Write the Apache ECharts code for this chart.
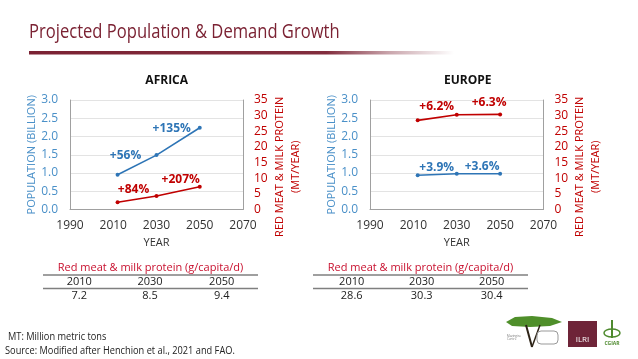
<!DOCTYPE html>
<html>
<head>
<meta charset="utf-8">
<script src="https://cdn.jsdelivr.net/npm/echarts@6/dist/echarts.min.js"></script>
<style>
html,body{margin:0;padding:0;background:#fff;}
#c{width:638px;height:359px;}
</style>
</head>
<body>
<div id="c"></div>
<script>
// ---- data ----
const years = [2012, 2030, 2050];
const africaPopulation = [0.95, 1.49, 2.24];
const africaProtein = [2.3, 4.3, 7.3];
const europePopulation = [0.94, 0.98, 0.98];
const europeProtein = [28.5, 30.3, 30.4];
const africaPopNotes = ['', '+56%', '+135%'];
const africaProteinNotes = ['', '+84%', '+207%'];
const europePopNotes = ['', '+3.9%', '+3.6%'];
const europeProteinNotes = ['', '+6.2%', '+6.3%'];
const tableYears = ['2010', '2030', '2050'];
const africaPerCapita = ['7.2', '8.5', '9.4'];
const europePerCapita = ['28.6', '30.3', '30.4'];
const regionTitles = ['AFRICA', 'EUROPE'];

const BLUE = '#2E75B6', BLUE_AX = '#4A90C8', RED = '#C00000', MAROON = '#7B2233';
const FONT = "'Open Sans', 'Noto Sans', sans-serif";

function items(vals, notes, offsets, color) {
  return years.map((x, i) => ({
    value: [x, vals[i]],
    label: {
      show: !!notes[i], formatter: notes[i], position: 'inside',
      offset: offsets[i], color: color, fontWeight: 'bold', fontSize: 12, fontFamily: FONT
    }
  }));
}

function axesFor(g) {
  return [
    { gridIndex: g, type: 'value', min: 0, max: 3, interval: 0.5, position: 'left',
      name: 'POPULATION (BILLION)', nameLocation: 'middle', nameRotate: 90, nameGap: 25,
      nameTextStyle: { color: BLUE_AX, fontSize: 11, fontFamily: FONT },
      axisLine: { show: true, lineStyle: { color: '#A0A0A0', width: 1 } },
      axisTick: { show: false },
      axisLabel: { color: BLUE_AX, fontSize: 12, fontFamily: FONT, margin: 12, formatter: v => v.toFixed(1) },
      splitLine: { show: true, lineStyle: { color: '#E3E3E3' } } },
    { gridIndex: g, type: 'value', min: 0, max: 35, interval: 5, position: 'right',
      name: 'RED MEAT & MILK PROTEIN\n(MT/YEAR)', nameLocation: 'middle', nameRotate: 90, nameGap: 26,
      nameTextStyle: { color: RED, fontSize: 11, fontFamily: FONT, lineHeight: 16, padding: [0, 24, 0, 0] },
      axisLine: { show: true, lineStyle: { color: '#A0A0A0', width: 1 } },
      axisTick: { show: false },
      axisLabel: { color: RED, fontSize: 12, fontFamily: FONT, margin: 11 },
      splitLine: { show: false } }
  ];
}

function xAxisFor(g) {
  return { gridIndex: g, type: 'value', min: 1990, max: 2070, interval: 20,
    name: 'YEAR', nameLocation: 'middle', nameGap: 28,
    nameTextStyle: { color: '#333', fontSize: 11, fontFamily: FONT },
    axisLine: { lineStyle: { color: '#A0A0A0' } }, axisTick: { show: false },
    axisLabel: { color: '#333', fontSize: 12, fontFamily: FONT, margin: 10, formatter: v => String(v) },
    splitLine: { show: false } };
}

function lineSeries(x, y, data, color) {
  return { type: 'line', xAxisIndex: x, yAxisIndex: y, data: data, symbol: 'circle', symbolSize: 4,
    lineStyle: { color: color, width: 1.6 }, itemStyle: { color: color }, animation: false };
}

// table graphics
function tableGraphic(cx, xs, x1, x2, values) {
  const els = [];
  els.push({ type: 'text', x: cx, y: 268, style: { text: 'Red meat & milk protein (g/capita/d)', fill: '#C8102E', font: "11px " + FONT, align: 'center', verticalAlign: 'middle' } });
  els.push({ type: 'line', shape: { x1: x1, y1: 275, x2: x2, y2: 275 }, style: { stroke: '#7F7F7F', lineWidth: 1.5 } });
  els.push({ type: 'line', shape: { x1: x1, y1: 288.5, x2: x2, y2: 288.5 }, style: { stroke: '#7F7F7F', lineWidth: 1.5 } });
  xs.forEach((x, i) => {
    els.push({ type: 'text', x: x, y: 281.7, style: { text: tableYears[i], fill: '#222', font: "11px " + FONT, align: 'center', verticalAlign: 'middle' } });
    els.push({ type: 'text', x: x, y: 295.7, style: { text: values[i], fill: '#222', font: "11px " + FONT, align: 'center', verticalAlign: 'middle' } });
  });
  return els;
}

const graphics = [
  { type: 'text', x: 29, y: 32, scaleX: 0.85, style: { text: 'Projected Population & Demand Growth', fill: MAROON, font: "19.5px " + FONT, verticalAlign: 'middle' } },
  { type: 'rect', shape: { x: 29, y: 51, width: 425, height: 3.5 },
    style: { fill: { type: 'linear', x: 0, y: 0, x2: 1, y2: 0, colorStops: [
      { offset: 0, color: 'rgba(123,34,51,1)' }, { offset: 0.7, color: 'rgba(123,34,51,0.95)' }, { offset: 0.85, color: 'rgba(123,34,51,0.4)' }, { offset: 1, color: 'rgba(123,34,51,0)' } ] } } },
  { type: 'text', x: 8, y: 337, scaleX: 0.88, style: { text: 'MT: Million metric tons', fill: '#222', font: "10.5px " + FONT, verticalAlign: 'middle' } },
  { type: 'text', x: 5, y: 351, scaleX: 0.88, style: { text: 'Source: Modified after Henchion et al., 2021 and FAO.', fill: '#222', font: "10.5px " + FONT, verticalAlign: 'middle' } },
  // logos (simplified)
  { type: 'polygon', shape: { points: [[506,322],[515,317],[532,316],[552,318],[562,322],[550,326],[530,327],[512,326]] }, style: { fill: '#4F8F2A' } },
  { type: 'line', shape: { x1: 532, y1: 347, x2: 526, y2: 325 }, style: { stroke: '#2E2418', lineWidth: 2 } },
  { type: 'line', shape: { x1: 532, y1: 347, x2: 540, y2: 325 }, style: { stroke: '#2E2418', lineWidth: 1.5 } },
  { type: 'rect', shape: { x: 537, y: 331, width: 21, height: 13, r: 4 }, style: { fill: 'none', stroke: '#999', lineWidth: 1 } },
  { type: 'text', x: 507, y: 338, style: { text: 'Mazingira\nCentre', fill: '#777', font: "3px " + FONT, verticalAlign: 'middle' } },
  { type: 'rect', shape: { x: 568, y: 321, width: 29, height: 26 }, style: { fill: '#6E2438' } },
  { type: 'text', x: 582.5, y: 340, style: { text: 'ILRI', fill: '#fff', font: "8px " + FONT, align: 'center', verticalAlign: 'middle' } },
  { type: 'text', x: 612, y: 344, style: { text: 'CGIAR', fill: '#4E8A2E', font: "bold 5px " + FONT, align: 'center', verticalAlign: 'middle' } },
  { type: 'line', shape: { x1: 612, y1: 320, x2: 612, y2: 338 }, style: { stroke: '#4E8A2E', lineWidth: 2 } },
  { type: 'ellipse', shape: { cx: 612, cy: 333, rx: 8, ry: 4 }, style: { fill: 'none', stroke: '#4E8A2E', lineWidth: 1.5 } }
].concat(
  tableGraphic(150.5, [79.3, 150, 221.7], 43, 258, africaPerCapita),
  tableGraphic(420.5, [351.7, 421.7, 491.7], 313, 528, europePerCapita)
);

const chart = echarts.init(document.getElementById('c'), null, { renderer: 'canvas' });
chart.setOption({
  backgroundColor: '#fff',
  animation: false,
  title: [
    { text: regionTitles[0], left: 161.7, top: 70, textAlign: 'center', textStyle: { fontSize: 12, fontWeight: 'bold', color: '#111', fontFamily: FONT } },
    { text: regionTitles[1], left: 462.7, top: 70, textAlign: 'center', textStyle: { fontSize: 12, fontWeight: 'bold', color: '#111', fontFamily: FONT } }
  ],
  grid: [
    { left: 70, top: 100, width: 173, height: 109.5 },
    { left: 370, top: 100, width: 173.5, height: 109.5 }
  ],
  xAxis: [xAxisFor(0), xAxisFor(1)],
  yAxis: axesFor(0).concat(axesFor(1)),
  series: [
    lineSeries(0, 0, items(africaPopulation, africaPopNotes, [[0,0],[-31,0],[-28,1]], BLUE), BLUE),
    lineSeries(0, 1, items(africaProtein, africaProteinNotes, [[0,0],[-23,-6],[-19,-7]], RED), RED),
    lineSeries(1, 2, items(europePopulation, europePopNotes, [[0,0],[-20,-6.5],[-18,-7]], BLUE), BLUE),
    lineSeries(1, 3, items(europeProtein, europeProteinNotes, [[0,0],[-20,-8.5],[-11,-12]], RED), RED)
  ],
  graphic: graphics
});
</script>
</body>
</html>
